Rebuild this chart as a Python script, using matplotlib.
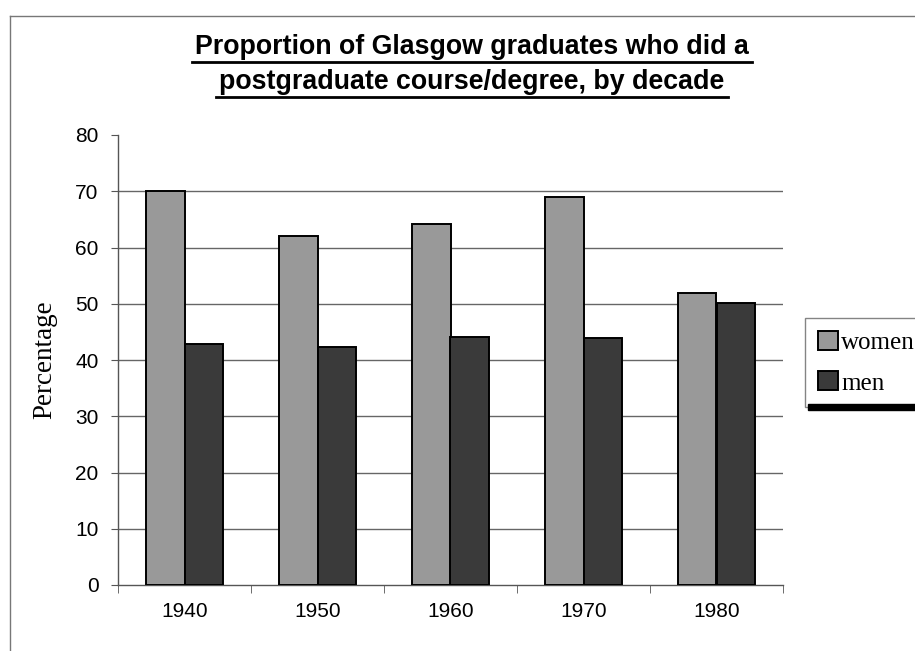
import numpy as np
import matplotlib
matplotlib.use('Agg')
import matplotlib.pyplot as plt
from matplotlib.lines import Line2D
from matplotlib.patches import Rectangle

decades = ['1940', '1950', '1960', '1970', '1980']
women = [70, 62, 64.2, 69, 51.9]
men = [42.8, 42.3, 44.1, 44, 50.1]
y_ticks = [0, 10, 20, 30, 40, 50, 60, 70, 80]
title_lines = ['Proportion of Glasgow graduates who did a',
               'postgraduate course/degree, by decade']

W, H = 915, 651
fig = plt.figure(figsize=(W / 100, H / 100), dpi=100)
ax = fig.add_axes([118 / W, 1 - 585 / H, (783 - 118) / W, (585 - 135) / H])

x = np.arange(len(decades))
bw = 0.286
ax.bar(x - bw / 2, women, bw, color='#999999', edgecolor='black', linewidth=1.4,
       label='women', zorder=3)
ax.bar(x + bw / 2, men, bw, color='#3a3a3a', edgecolor='black', linewidth=1.4,
       label='men', zorder=3)

ax.set_xlim(-0.5, len(decades) - 0.5)
ax.set_ylim(0, 80)
ax.set_yticks(y_ticks)
ax.set_yticklabels([str(v) for v in y_ticks], fontsize=15, family='Liberation Sans')
for v in y_ticks[1:-1]:
    ax.axhline(v, color='#666666', linewidth=1, zorder=1)

ax.set_xticks(x)
ax.set_xticklabels(decades, fontsize=15, family='Liberation Sans')
ax.set_xticks(np.arange(-0.5, len(decades)), minor=True)
ax.tick_params(axis='x', which='major', length=0, pad=12)
ax.tick_params(axis='x', which='minor', length=6, direction='out', color='#555555')
ax.tick_params(axis='y', length=5, direction='out', color='#555555', pad=9)

for s in ['top', 'right']:
    ax.spines[s].set_visible(False)
for s in ['left', 'bottom']:
    ax.spines[s].set_color('#555555')
    ax.spines[s].set_linewidth(1)

ax.set_ylabel('Percentage', fontsize=19.5, family='Liberation Serif', labelpad=13)

# titel, twee regels, onderstreept
title_y = [1 - 47 / H, 1 - 82 / H]
texts = []
for t, ty in zip(title_lines, title_y):
    texts.append(fig.text(472 / W, ty, t, ha='center', va='center', fontsize=19.3,
                          fontweight='bold', family='Liberation Sans'))
fig.canvas.draw()
r = fig.canvas.get_renderer()
for tx in texts:
    bb = tx.get_window_extent(r)
    yy = bb.y0 - 2
    fig.add_artist(Line2D([(bb.x0 - 3) / W, (bb.x1 + 3) / W], [yy / H, yy / H],
                          color='black', linewidth=2))

# legenda
leg = ax.legend(loc='upper left', bbox_to_anchor=(805 / W, 1 - 318 / H),
                bbox_transform=fig.transFigure, frameon=True, fancybox=False,
                edgecolor='#666666', prop={'family': 'Liberation Serif', 'size': 18},
                handlelength=0.8, handleheight=0.8, handletextpad=0.15,
                labelspacing=0.7, borderpad=0.5, borderaxespad=0)
leg.get_frame().set_linewidth(1)
fig.add_artist(Rectangle((808 / W, 1 - 410 / H), (W - 808) / W, 6 / H,
                         transform=fig.transFigure, color='black'))

# buitenste kader
fig.add_artist(Line2D([10 / W, 1], [1 - 16 / H, 1 - 16 / H], color='#777777', linewidth=1))
fig.add_artist(Line2D([10 / W, 10 / W], [0, 1 - 16 / H], color='#777777', linewidth=1))

fig.savefig('out.png', dpi=100)
